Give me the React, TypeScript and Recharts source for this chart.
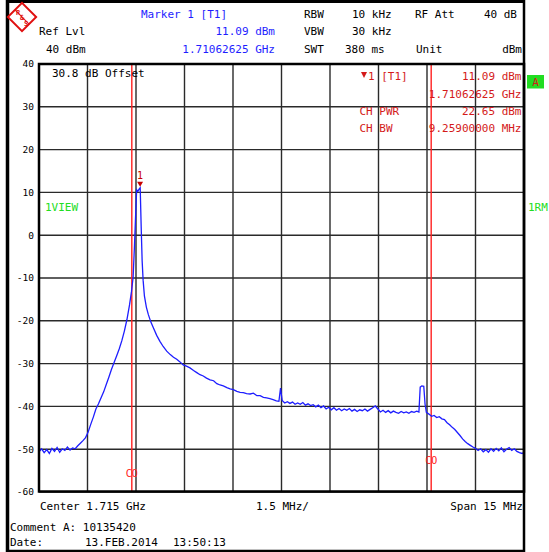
import React from 'react';
import { LineChart, Line, XAxis, YAxis, CartesianGrid, ReferenceLine, ReferenceDot } from 'recharts';

// frequency in MHz, level in dBm
const freqs = [
  1707.5, 1707.58, 1707.66, 1707.74, 1707.82, 1707.9, 1707.98, 1708.06, 1708.14, 1708.22,
  1708.3, 1708.38, 1708.46, 1708.54, 1708.62, 1708.7, 1708.78, 1708.86, 1708.94, 1709.02,
  1709.1, 1709.18, 1709.26, 1709.34, 1709.42, 1709.5, 1709.58, 1709.66, 1709.74, 1709.82,
  1709.9, 1709.98, 1710.06, 1710.14, 1710.22, 1710.3, 1710.36, 1710.41, 1710.45, 1710.49,
  1710.52, 1710.56, 1710.6, 1710.63, 1710.66, 1710.69, 1710.72, 1710.76, 1710.82, 1710.88,
  1710.96, 1711.04, 1711.14, 1711.24, 1711.34, 1711.45, 1711.56, 1711.66, 1711.76, 1711.86,
  1711.96, 1712.06, 1712.17, 1712.28, 1712.38, 1712.48, 1712.58, 1712.68, 1712.79, 1712.9,
  1713.0, 1713.1, 1713.2, 1713.31, 1713.41, 1713.51, 1713.62, 1713.72, 1713.82, 1713.92,
  1714.03, 1714.13, 1714.24, 1714.34, 1714.44, 1714.54, 1714.64, 1714.74, 1714.84, 1714.92,
  1714.97, 1715.02, 1715.1, 1715.18, 1715.26, 1715.34, 1715.42, 1715.5, 1715.58, 1715.66,
  1715.74, 1715.82, 1715.9, 1715.98, 1716.06, 1716.14, 1716.22, 1716.3, 1716.38, 1716.46,
  1716.54, 1716.62, 1716.7, 1716.78, 1716.86, 1716.94, 1717.02, 1717.1, 1717.18, 1717.26,
  1717.34, 1717.42, 1717.5, 1717.58, 1717.66, 1717.74, 1717.82, 1717.9, 1717.98, 1718.06,
  1718.14, 1718.22, 1718.3, 1718.38, 1718.46, 1718.54, 1718.62, 1718.7, 1718.78, 1718.86,
  1718.94, 1719.02, 1719.1, 1719.18, 1719.25, 1719.29, 1719.34, 1719.4, 1719.44, 1719.48,
  1719.56, 1719.64, 1719.72, 1719.8, 1719.88, 1719.96, 1720.04, 1720.12, 1720.2, 1720.28,
  1720.36, 1720.44, 1720.52, 1720.6, 1720.68, 1720.76, 1720.84, 1720.92, 1721.0, 1721.08,
  1721.16, 1721.24, 1721.32, 1721.4, 1721.48, 1721.56, 1721.64, 1721.72, 1721.8, 1721.88,
  1721.96, 1722.04, 1722.12, 1722.2, 1722.28, 1722.36, 1722.44, 1722.5,
];
const levels = [
  -50.6, -49.9, -50.8, -50.1, -51.0, -49.8, -50.5, -49.6, -50.7, -49.9,
  -50.3, -49.5, -50.2, -49.7, -49.9, -49.2, -48.6, -48.0, -47.3, -46.0,
  -44.2, -42.5, -40.6, -39.4, -38.0, -36.6, -34.9, -33.2, -31.4, -29.8,
  -28.2, -26.6, -24.7, -22.4, -19.7, -16.3, -13.2, -9.9, -3.0, 5.0,
  10.6, 10.3, 10.8, 11.09, 2.0, -6.0, -10.5, -14.2, -16.8, -18.5,
  -20.3, -21.7, -23.4, -24.8, -26.0, -27.1, -27.9, -28.5, -29.0, -29.6,
  -30.3, -30.6, -31.0, -31.6, -32.1, -32.6, -32.9, -33.4, -33.8, -34.0,
  -34.7, -35.0, -35.2, -35.6, -35.9, -36.1, -36.5, -36.7, -36.8, -37.0,
  -37.1, -36.9, -37.5, -37.5, -37.9, -38.0, -38.2, -38.4, -38.7, -38.8,
  -35.7, -38.6, -39.2, -38.9, -39.3, -39.0, -39.5, -39.2, -39.5, -39.1,
  -39.7, -39.4, -39.8, -39.6, -40.1, -39.7, -40.3, -39.9, -40.6, -40.2,
  -40.8, -40.3, -40.9, -40.5, -41.0, -40.6, -40.9, -40.5, -41.1, -40.7,
  -41.2, -40.8, -41.0, -40.6, -41.1, -40.7, -40.3, -39.9, -40.6, -41.3,
  -40.9, -41.4, -41.0, -41.5, -41.1, -41.4, -41.6, -41.2, -41.5, -41.3,
  -41.6, -41.2, -41.4, -41.1, -41.3, -35.5, -35.2, -35.3, -39.5, -41.4,
  -41.8, -42.3, -42.1, -42.6, -42.4, -42.9, -43.1, -43.8, -44.3, -44.9,
  -45.4, -46.1, -46.8, -47.6, -48.2, -48.7, -49.1, -49.5, -49.8, -50.3,
  -49.9, -50.6, -50.1, -50.7, -49.9, -50.5, -49.8, -50.4, -49.7, -50.6,
  -50.0, -49.6, -50.3, -49.9, -50.5, -50.8, -51.0, -50.7,
];
const xTicks = [1707.5, 1709, 1710.5, 1712, 1713.5, 1715, 1716.5, 1718, 1719.5, 1721, 1722.5];
const yTicks = [40, 30, 20, 10, 0, -10, -20, -30, -40, -50, -60];
const channelLines = [1710.3705, 1719.6295];
const marker = { freq: 1710.62625, level: 11.09 };

const data = freqs.map((f, i) => ({ freq: f, level: levels[i] }));

const MONO = '"DejaVu Sans Mono", monospace';
const BLUE = '#1e1eff';
const RED = '#d41a1a';
const GREEN = '#22dd22';

const CoLabel = (props: any) => {
  const vb = props.viewBox || {};
  return (
    <text x={vb.x} y={vb.y + vb.height - props.up} textAnchor="middle" fill="#ff2020" fontFamily={MONO} fontSize={10}>
      CO
    </text>
  );
};

const MarkerShape = (props: any) => {
  const { cx, cy } = props;
  return (
    <g>
      <polygon points={`${cx - 3},${cy - 6} ${cx + 3},${cy - 6} ${cx},${cy - 1}`} fill="#c80000" />
      <text x={cx} y={cy - 9} textAnchor="middle" fill="#c80000" fontFamily={MONO} fontSize={10}>1</text>
    </g>
  );
};

const T = ({ x, y, c = '#000', a = 'start', b = false, s = 11, children }: any) => (
  <text x={x} y={y} fill={c} textAnchor={a} fontWeight={b ? 'bold' : 'normal'} fontFamily={MONO} fontSize={s}>
    {children}
  </text>
);

export default function App() {
  return (
    <div style={{ position: 'absolute', left: 0, top: 0, width: 549, height: 552, background: '#fff' }}>
      <LineChart width={549} height={552} data={data} margin={{ top: 64, right: 25, left: 8, bottom: 60 }}>
        <CartesianGrid stroke="#2a2a2a" strokeWidth={1.4} />
        <XAxis dataKey="freq" type="number" domain={[1707.5, 1722.5]} ticks={xTicks} hide />
        <YAxis
          type="number"
          domain={[-60, 40]}
          ticks={yTicks}
          width={31}
          axisLine={false}
          tickLine={false}
          tickSize={0}
          tickMargin={5}
          tick={{ fill: '#000', fontSize: 9.5, fontFamily: MONO }}
        />
        {channelLines.map((f, i) => (
          <ReferenceLine key={f} x={f} stroke="#ff2020" strokeWidth={1.4} label={<CoLabel up={i === 0 ? 15.5 : 28.5} />} />
        ))}
        <Line dataKey="level" stroke={BLUE} strokeWidth={1.3} dot={false} isAnimationActive={false} />
        <ReferenceDot x={marker.freq} y={marker.level} shape={<MarkerShape />} />
      </LineChart>
      <svg width={549} height={552} style={{ position: 'absolute', left: 0, top: 0, pointerEvents: 'none' }}>
        {/* frames */}
        <rect x={39} y={64} width={485} height={427.5} fill="none" stroke="#000" strokeWidth={2.5} />
        <line x1={7.5} y1={0} x2={7.5} y2={552} stroke="#000" strokeWidth={3.5} />
        <line x1={6} y1={1.5} x2={525} y2={1.5} stroke="#000" strokeWidth={3} />
        <line x1={6} y1={551} x2={525} y2={551} stroke="#000" strokeWidth={2.5} />
        <line x1={524} y1={0} x2={524} y2={552} stroke="#000" strokeWidth={2.5} />

        {/* R&S logo */}
        <g transform="translate(22,17) rotate(45)">
          <rect x={-10} y={-10} width={20} height={20} fill="#fff" stroke="#e01010" strokeWidth={2} />
          <line x1={-10} y1={0} x2={10} y2={0} stroke="#e01010" strokeWidth={1} />
        </g>
        <text x={16} y={15} fill="#e01010" fontFamily={MONO} fontSize={7} fontWeight="bold">R</text>
        <text x={20} y={20} fill="#e01010" fontFamily={MONO} fontSize={7} fontWeight="bold">&amp;</text>
        <text x={24} y={26} fill="#e01010" fontFamily={MONO} fontSize={7} fontWeight="bold">S</text>

        {/* header */}
        <T x={141} y={17.5} c={BLUE}>Marker 1 [T1]</T>
        <T x={304} y={17.5}>RBW</T>
        <T x={352} y={17.5}>10 kHz</T>
        <T x={415} y={17.5}>RF Att</T>
        <T x={517} y={17.5} a="end">40 dB</T>
        <T x={39} y={35}>Ref Lvl</T>
        <T x={275} y={35} c={BLUE} a="end">11.09 dBm</T>
        <T x={304} y={35}>VBW</T>
        <T x={352} y={35}>30 kHz</T>
        <T x={46} y={53}>40 dBm</T>
        <T x={275} y={53} c={BLUE} a="end">1.71062625 GHz</T>
        <T x={304} y={53}>SWT</T>
        <T x={345} y={53}>380 ms</T>
        <T x={416} y={53}>Unit</T>
        <T x={522} y={53} a="end">dBm</T>

        {/* in-plot annotations */}
        <T x={52} y={77}>30.8 dB Offset</T>
        <polygon points="361,72 367,72 364,78" fill={RED} />
        <T x={368} y={80} c={RED}>1 [T1]</T>
        <T x={521.5} y={80} c={RED} a="end">11.09 dBm</T>
        <T x={521.5} y={97.5} c={RED} a="end">1.71062625 GHz</T>
        <T x={359.5} y={115} c={RED}>CH PWR</T>
        <T x={521.5} y={115} c={RED} a="end">22.65 dBm</T>
        <T x={359.5} y={132} c={RED}>CH BW</T>
        <T x={521.5} y={132} c={RED} a="end">9.25900000 MHz</T>
        <rect x={527} y={75} width={17} height={13.5} fill={GREEN} />
        <T x={535.5} y={86} c={RED} a="middle">A</T>
        <T x={45} y={211} c={GREEN}>1VIEW</T>
        <T x={528} y={211} c={GREEN}>1RM</T>

        {/* footer */}
        <T x={40} y={510}>Center 1.715 GHz</T>
        <T x={256} y={510}>1.5 MHz/</T>
        <T x={523} y={510} a="end">Span 15 MHz</T>
        <T x={10} y={531}>Comment A: 10135420</T>
        <T x={10} y={546}>Date:</T>
        <T x={85} y={546}>13.FEB.2014</T>
        <T x={173} y={546}>13:50:13</T>
      </svg>
    </div>
  );
}
